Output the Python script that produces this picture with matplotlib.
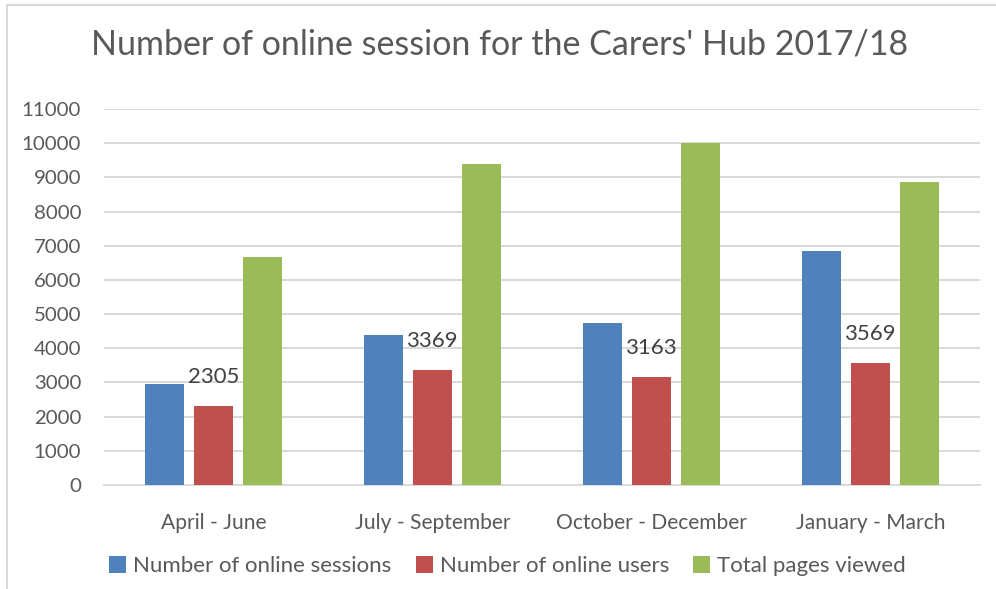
import numpy as np
import matplotlib.pyplot as plt
from matplotlib.lines import Line2D

# data
quarters = ['April - June', 'July - September', 'October - December', 'January - March']
sessions = [2950, 4380, 4730, 6850]
users = [2305, 3369, 3163, 3569]
pages = [6670, 9400, 10000, 8850]

series_names = ['Number of online sessions', 'Number of online users', 'Total pages viewed']
colors = ['#4f81bd', '#c0504d', '#9bbb59']
yticks = list(range(0, 11001, 1000))

plt.rcParams['font.family'] = ['Lato', 'DejaVu Sans']
txt = '#595959'
grid = '#d9d9d9'

fig = plt.figure(figsize=(9.96, 5.89), dpi=100)
ax = fig.add_axes([104/996, 1-485/589, 876/996, 376/589])

x = np.arange(len(quarters))
w = 0.178
step = 0.224
for i, (vals, c, name) in enumerate(zip([sessions, users, pages], colors, series_names)):
    ax.bar(x + (i-1)*step, vals, width=w, color=c, label=name, zorder=3)

# only the users series has data labels
for xi, v in zip(x, users):
    ax.text(xi, v + 850, str(v), ha='center', va='center', fontsize=15.9, color='#404040')

ax.set_xlim(-0.5, len(quarters)-0.5)
ax.set_ylim(0, 11000)
ax.set_yticks(yticks)
ax.set_yticklabels([str(t) for t in yticks])
ax.set_xticks(x)
ax.set_xticklabels(quarters, fontsize=15.1)
ax.tick_params(axis='both', length=0, colors=txt)
ax.tick_params(axis='y', pad=16.5, labelsize=14.7)
ax.tick_params(axis='x', pad=20)
ax.grid(axis='y', color=grid, linewidth=1.4, zorder=0)
for s in ['top', 'right', 'left']:
    ax.spines[s].set_visible(False)
ax.spines['bottom'].set_color(grid)
ax.spines['bottom'].set_linewidth(1.4)

fig.text(0.502, 1-44/589, 'Number of online session for the Carers\' Hub 2017/18',
         ha='center', va='center', fontsize=24.5, color=txt)

leg = fig.legend(loc='center', bbox_to_anchor=(0.5095, 1-566/589), ncol=3, frameon=False,
                 fontsize=16, handlelength=0.77, handleheight=0.77, handletextpad=0.31,
                 columnspacing=1.08)
for t in leg.get_texts():
    t.set_color(txt)

# chart-area frame (left and top edges visible)
fig.add_artist(Line2D([7/996, 7/996], [0, 1-5/589], color=grid, linewidth=1.5))
fig.add_artist(Line2D([7/996, 1], [1-5/589, 1-5/589], color=grid, linewidth=1.5))

fig.savefig('out.png', dpi=100, facecolor='white')
